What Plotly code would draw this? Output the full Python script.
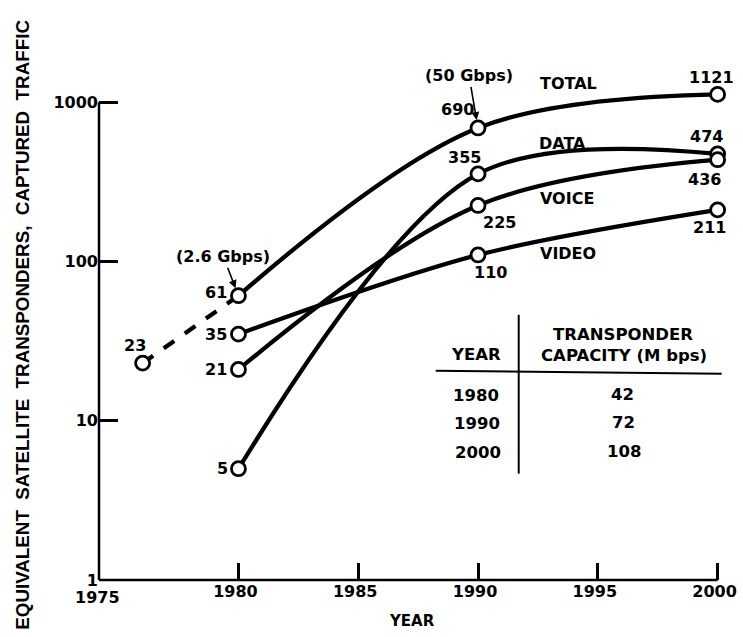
import math
import plotly.graph_objects as go

# ---------------- data ----------------
years = [1980, 1990, 2000]
total_early_year = 1976
total_early = 23
total = [61, 690, 1121]
data = [5, 355, 474]
voice = [21, 225, 436]
video = [35, 110, 211]
series_names = ["TOTAL", "DATA", "VOICE", "VIDEO"]
total_rates = ["(2.6 Gbps)", "(50 Gbps)"]

x_tick_vals = [1980, 1985, 1990, 1995, 2000]
x_tick_text = ["1980", "1985", "1990", "1995", "2000"]
x_origin_label = "1975"
y_tick_vals = [1, 10, 100, 1000]
y_tick_text = ["1", "10", "100", "1000"]

table_header = ["YEAR", "TRANSPONDER", "CAPACITY (M bps)"]
table_years = ["1980", "1990", "2000"]
table_capacity = ["42", "72", "108"]

y_title = "EQUIVALENT\u00a0 SATELLITE\u00a0 TRANSPONDERS,\u00a0 CAPTURED\u00a0 TRAFFIC"
x_title = "YEAR"

# ---------------- layout geometry ----------------
W, H = 743, 637
X0, X_AXIS_END, X1 = 1974.18, 2000, 2000.6     # x range (axis drawn up to 2000)
Y_MIN, Y_AXIS_END = 1, 1000                    # y axis drawn from 1 to 1000
Y_LOG0, Y_LOG_AXIS_END, Y_LOG1 = 0, 3, 3.14    # log10 y range
L, B = 98.5, 580.5
TOP_TICK = 102.5
X_END_PX = 722
px_per_year = (X_END_PX - L) / (X_AXIS_END - X0)
px_per_dec = (B - TOP_TICK) / (Y_LOG_AXIS_END - Y_LOG0)
R = L + (X1 - X0) * px_per_year
T = B - (Y_LOG1 - Y_LOG0) * px_per_dec

# the scanned original is turned ~1.4 deg clockwise; positions measured on it
# are turned back about the picture centre before use
CX, CY, TH = 404, 334, math.radians(1.4)


def unrot(x, y):
    X, Y = x - CX, y - CY
    return (CX + X * math.cos(TH) + Y * math.sin(TH),
            CY - X * math.sin(TH) + Y * math.cos(TH))


def pp(xpx, ypx, turn=True):
    """measured pixel position -> paper coordinates"""
    ux, uy = unrot(xpx, ypx) if turn else (xpx, ypx)
    return (ux - L) / (R - L), (B - uy) / (B - T)


FONT = "DejaVu Sans"
TFONT = "Liberation Sans"
INK = "black"
LW = 4.3

fig = go.Figure()

# dashed early part of TOTAL
fig.add_trace(go.Scatter(x=[total_early_year, years[0]], y=[total_early, total[0]],
                         mode="lines", line=dict(color=INK, width=LW, dash="dash"),
                         hoverinfo="skip", showlegend=False))
smooth = {"TOTAL": 1.0, "DATA": 0.95, "VOICE": 1.0, "VIDEO": 0.9}
for name, vals in zip(series_names, [total, data, voice, video]):
    fig.add_trace(go.Scatter(x=years, y=vals, mode="lines", name=name,
                             line=dict(color=INK, width=LW, shape="spline", smoothing=smooth[name]),
                             showlegend=False))
# open circle markers on top
mx = [total_early_year]
my = [total_early]
for vals in [total, data, voice, video]:
    mx += years
    my += vals
fig.add_trace(go.Scatter(x=mx, y=my, mode="markers",
                         marker=dict(symbol="circle", size=14, color="white",
                                     line=dict(color=INK, width=2.8)),
                         showlegend=False, cliponaxis=False))

ann = []
lab_font = dict(family=FONT, size=16, color=INK, weight="bold")


def point_label(x, v, dx, dy, anchor="center"):
    ann.append(dict(x=x, y=math.log10(v), xref="x", yref="y", text=str(v),
                    showarrow=False, xanchor=anchor, yanchor="middle",
                    xshift=dx, yshift=dy, font=lab_font))


point_label(total_early_year, total_early, -8, 18)
# TOTAL
point_label(years[0], total[0], -9, 3, "right")
point_label(years[1], total[1], -21, 18)
point_label(years[2], total[2], -6, 17)
# DATA
point_label(years[0], data[0], -8, 0, "right")
point_label(years[1], data[1], -14, 16)
point_label(years[2], data[2], -11, 17)
# VOICE
point_label(years[0], voice[0], -9, 0, "right")
point_label(years[1], voice[1], 21, -17)
point_label(years[2], voice[2], -13, -20)
# VIDEO
point_label(years[0], video[0], -9, 0, "right")
point_label(years[1], video[1], 12, -18)
point_label(years[2], video[2], -8, -18)

# bandwidth annotations with arrows
ann.append(dict(x=years[0], y=math.log10(total[0]), xref="x", yref="y", text=total_rates[0],
                showarrow=True, ax=-15, ay=-39, arrowhead=2, arrowsize=1, arrowwidth=1.6,
                arrowcolor=INK, standoff=8, font=lab_font))
ann.append(dict(x=years[1], y=math.log10(total[1]), xref="x", yref="y", text=total_rates[1],
                showarrow=True, ax=-9, ay=-52, arrowhead=2, arrowsize=1, arrowwidth=1.6,
                arrowcolor=INK, standoff=8, font=lab_font))


def text_at(xpx, ypx, text, font, xanchor="center", turn=True, **kw):
    px_, py_ = pp(xpx, ypx, turn)
    ann.append(dict(x=px_, y=py_, xref="paper", yref="paper", text=text, showarrow=False,
                    xanchor=xanchor, yanchor="middle", font=font, **kw))


# series names (measured positions on the original)
for name, (sx, sy) in zip(series_names, [(578, 88), (570, 148), (573, 203), (573, 258)]):
    text_at(sx, sy, name, lab_font)

# table
tab_font = dict(family=FONT, size=16.5, color=INK, weight="bold")
text_at(478, 357, table_header[0], tab_font)
text_at(627, 340, table_header[1], tab_font)
text_at(627, 361, table_header[2], tab_font)
for i, (yr, cap) in enumerate(zip(table_years, table_capacity)):
    text_at(452, 397 + i * 28.5, yr, tab_font, xanchor="left")
    text_at(625, 400 + i * 28.5, cap, tab_font)

# axis titles / origin label
text_at(22, 325, y_title, dict(family=TFONT, size=18.8, color=INK, weight="bold"),
        turn=False, textangle=-90)
text_at(407, 622, x_title, dict(family=FONT, size=15, color=INK, weight="bold"))
text_at(91, 590, x_origin_label, dict(family=FONT, size=16, color=INK, weight="bold"))

hx0, hy0 = pp(437, 372)
hx1, hy1 = pp(725, 382)
vx0, vy0 = pp(520, 318)
vx1, vy1 = pp(520, 477)
vx = (vx0 + vx1) / 2
shapes = [
    # axis lines (only up to 2000 / 1000 as in the original)
    dict(type="line", xref="x", yref="paper", x0=X0, x1=X_AXIS_END, y0=0, y1=0,
         line=dict(color=INK, width=2.5)),
    dict(type="line", xref="paper", yref="y", x0=0, x1=0, y0=Y_MIN, y1=Y_AXIS_END,
         line=dict(color=INK, width=2.5)),
    # table rules
    dict(type="line", xref="paper", yref="paper", x0=hx0, x1=hx1, y0=hy0, y1=hy1,
         line=dict(color=INK, width=2)),
    dict(type="line", xref="paper", yref="paper", x0=vx, x1=vx, y0=vy0, y1=vy1,
         line=dict(color=INK, width=2)),
]

tick_font = dict(family=FONT, size=16, color=INK, weight="bold")
fig.update_layout(
    width=W, height=H,
    margin=dict(l=L, r=W - R, t=T, b=H - B),
    paper_bgcolor="white", plot_bgcolor="white",
    font=dict(family=FONT, size=16, color=INK, weight="bold"),
    showlegend=False,
    annotations=ann, shapes=shapes,
    xaxis=dict(range=[X0, X1], tickvals=x_tick_vals, ticktext=x_tick_text,
               ticks="inside", ticklen=17, tickwidth=2.5, tickcolor=INK,
               ticklabelshift=-3, ticklabeloverflow="allow",
               showline=False, showgrid=False, zeroline=False, tickfont=tick_font),
    yaxis=dict(type="log", range=[Y_LOG0, Y_LOG1], tickvals=y_tick_vals, ticktext=y_tick_text,
               ticks="inside", ticklen=19, tickwidth=2.5, tickcolor=INK,
               showline=False, showgrid=False, zeroline=False, tickfont=tick_font),
)

fig.write_html("out.html")
